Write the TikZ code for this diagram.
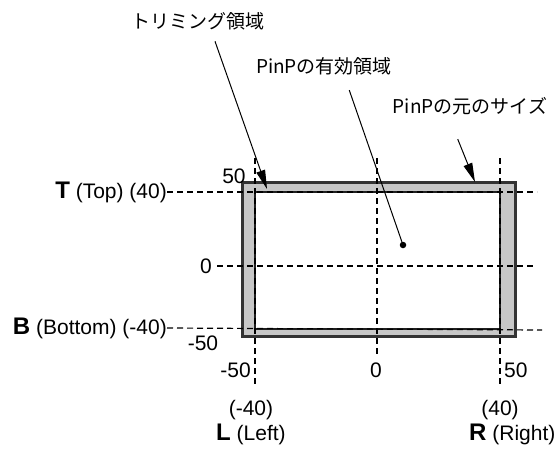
\documentclass[tikz,border=0pt]{standalone}
\usepackage{fontspec}
\setmainfont{Liberation Sans}
\newfontfamily\jpfont{Noto Sans CJK JP}
\usetikzlibrary{arrows.meta}

\newcommand{\bigletter}[1]{{\fontsize{24}{27}\selectfont\bfseries #1}}

\begin{document}
\begin{tikzpicture}[x=1pt, y=-1pt, every node/.style={inner sep=0pt, font=\fontsize{21}{24}\selectfont}, >={Triangle[length=19pt,width=9pt]},
	guide/.style={dash pattern=on 6pt off 4pt, line width=1.2pt},
	pointer/.style={line width=1pt},
	jptext/.style={font=\jpfont\fontsize{19}{22}\selectfont}]
	\useasboundingbox (0,0) rectangle (554,448);
	% trimming frame and effective area
	\draw[line width=3pt, draw=black!80, fill=black!22] (242,182) rectangle (515,336);
	\draw[line width=2.4pt, draw=black!88, fill=white] (255,192) rectangle (500,329);
	% end points of the guides
	\coordinate (tEnd) at (537,192);
	\coordinate (zEnd) at (533,266);
	\coordinate (bEnd) at (542,330);
	\coordinate (lTop) at (255,158);
	\coordinate (lBot) at (255,386);
	\coordinate (cTop) at (377,158);
	\coordinate (cBot) at (377,356);
	\coordinate (rTop) at (500,158);
	\coordinate (rBot) at (500,386);
	% vertical scale
	\node[anchor=east] (lblT) at (167,192) {\bigletter{T} (Top) (40)};
	\node[anchor=east] (lblB) at (167,328) {\bigletter{B} (Bottom) (-40)};
	\node (n50t) at (234,176) {50};
	\node[anchor=east] (n0v) at (212,266) {0};
	\node (n50b) at (203,343) {-50};
	\draw[guide] (lblT.east) -- (tEnd);
	\draw[guide] ([xshift=5pt]n0v.east) -- (zEnd);
	\draw[guide] (lblB.east) -- (bEnd);
	% horizontal scale
	\draw[guide] (lTop) -- (lBot);
	\draw[guide] (cTop) -- (cBot);
	\draw[guide] (rTop) -- (rBot);
	\node[anchor=east] (n50l) at (251,370) {-50};
	\node (n0h) at (376,370) {0};
	\node[anchor=west] (n50r) at (504,370) {50};
	\node (n40l) at (251,410) {(-40)};
	\node (n40r) at (500,410) {(40)};
	\node[anchor=west] (lblL) at (216,434) {\bigletter{L} (Left)};
	\node[anchor=west] (lblR) at (469,434) {\bigletter{R} (Right)};
	% captions
	\node[jptext] (trim) at (198,21) {トリミング領域};
	\node[jptext] (eff) at (324,66) {PinPの有効領域};
	\node[jptext] (orig) at (470,106) {PinPの元のサイズ};
	\coordinate (trimTip) at (267,189);
	\coordinate (origTip) at (475,182);
	\node[circle, fill=black, minimum size=6.5pt] (dot) at (403,245) {};
	\draw[pointer, ->, shorten <=12pt] ([xshift=13pt]trim.south) -- (trimTip);
	\draw[pointer, shorten <=16pt] ([xshift=20pt]eff.south) -- (dot.center);
	\draw[pointer, ->, shorten <=26pt] ([xshift=-22pt]orig.south) -- (origTip);
\end{tikzpicture}
\end{document}
